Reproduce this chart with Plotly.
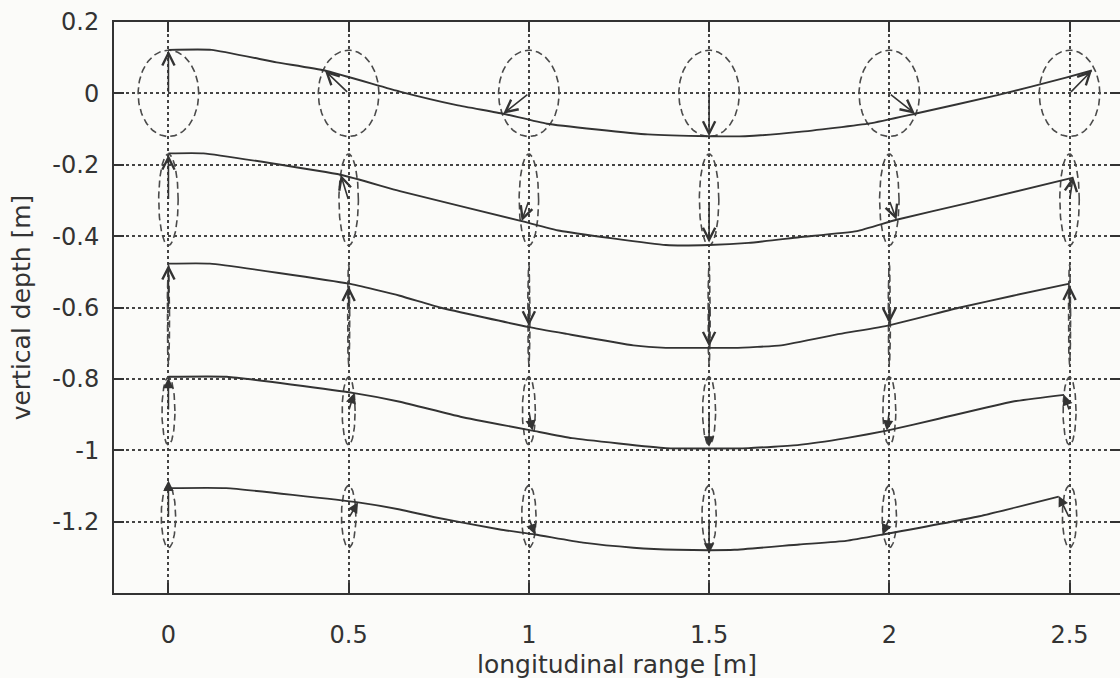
import numpy as np
import plotly.graph_objects as go

# ---------------- data ----------------
station_x = [0.0, 0.5, 1.0, 1.5, 2.0, 2.5]
row_depth = [0.0, -0.3, -0.6, -0.89, -1.19]          # arrow tails (mean position)

ellipse_center = [0.0, -0.298, -0.62, -0.89, -1.186]
ellipse_half_width = [0.084, 0.027, 0.003, 0.018, 0.02]
ellipse_half_height = [0.121, 0.128, 0.14, 0.095, 0.087]

tip_x_row1 = [0.0, 0.434, 0.929, 1.5, 2.071, 2.562]
tip_y_row1 = [0.12, 0.064, -0.057, -0.12, -0.057, 0.064]
tip_x_row2 = [0.0, 0.478, 0.98, 1.5, 2.02, 2.51]
tip_y_row2 = [-0.172, -0.228, -0.358, -0.418, -0.354, -0.233]
tip_x_row3 = [0.0, 0.5, 1.0, 1.5, 2.0, 2.5]
tip_y_row3 = [-0.48, -0.54, -0.652, -0.71, -0.645, -0.537]
tip_x_row4 = [0.0, 0.515, 1.01, 1.5, 1.993, 2.485]
tip_y_row4 = [-0.797, -0.84, -0.945, -0.99, -0.945, -0.845]
tip_x_row5 = [0.0, 0.526, 1.017, 1.5, 1.982, 2.47]
tip_y_row5 = [-1.085, -1.146, -1.236, -1.29, -1.236, -1.128]

curve_x_row1 = [0, 0.12, 0.3, 0.434, 0.642, 0.80, 0.929, 1.05, 1.33, 1.5, 1.6, 1.75, 1.946, 2.071, 2.30, 2.49, 2.562]
curve_y_row1 = [0.122, 0.122, 0.087, 0.064, 0.005, -0.033, -0.057, -0.085, -0.115, -0.12, -0.12, -0.108, -0.084, -0.057, -0.005, 0.044, 0.064]
curve_x_row2 = [0, 0.097, 0.478, 0.642, 0.98, 1.086, 1.38, 1.5, 1.61, 1.75, 1.91, 2.02, 2.22, 2.51]
curve_y_row2 = [-0.168, -0.168, -0.228, -0.274, -0.358, -0.385, -0.425, -0.425, -0.419, -0.403, -0.386, -0.354, -0.307, -0.236]
curve_x_row3 = [0, 0.115, 0.5, 0.642, 0.753, 1.0, 1.105, 1.29, 1.38, 1.5, 1.57, 1.70, 1.863, 2.0, 2.196, 2.343, 2.5]
curve_y_row3 = [-0.477, -0.477, -0.533, -0.567, -0.6, -0.655, -0.674, -0.706, -0.713, -0.713, -0.713, -0.706, -0.674, -0.65, -0.6, -0.567, -0.533]
curve_x_row4 = [0, 0.162, 0.515, 0.642, 0.81, 1.01, 1.12, 1.38, 1.5, 1.61, 1.75, 1.88, 1.993, 2.14, 2.34, 2.485]
curve_y_row4 = [-0.794, -0.794, -0.84, -0.864, -0.906, -0.945, -0.966, -0.994, -0.995, -0.994, -0.985, -0.966, -0.945, -0.911, -0.864, -0.845]
curve_x_row5 = [0, 0.16, 0.526, 0.642, 0.735, 0.92, 1.017, 1.15, 1.29, 1.41, 1.5, 1.57, 1.75, 1.88, 1.982, 2.25, 2.47]
curve_y_row5 = [-1.106, -1.106, -1.146, -1.166, -1.187, -1.222, -1.236, -1.259, -1.273, -1.279, -1.28, -1.279, -1.264, -1.254, -1.236, -1.185, -1.13]

x_tick_vals = [0, 0.5, 1, 1.5, 2, 2.5]
x_tick_text = ["0", "0.5", "1", "1.5", "2", "2.5"]
y_tick_vals = [0.2, 0, -0.2, -0.4, -0.6, -0.8, -1.0, -1.2]
y_tick_text = ["0.2", "0", "-0.2", "-0.4", "-0.6", "-0.8", "-1", "-1.2"]

x_title = "longitudinal range [m]"
y_title = "vertical depth [m]"

tips_x = [tip_x_row1, tip_x_row2, tip_x_row3, tip_x_row4, tip_x_row5]
tips_y = [tip_y_row1, tip_y_row2, tip_y_row3, tip_y_row4, tip_y_row5]
curves_x = [curve_x_row1, curve_x_row2, curve_x_row3, curve_x_row4, curve_x_row5]
curves_y = [curve_y_row1, curve_y_row2, curve_y_row3, curve_y_row4, curve_y_row5]

# ---------------- figure ----------------
INK = "#333333"
fig = go.Figure()

t = np.linspace(0, 2 * np.pi, 121)
for r in range(len(row_depth)):
    for sx in station_x:
        fig.add_trace(go.Scatter(
            x=sx + ellipse_half_width[r] * np.cos(t),
            y=ellipse_center[r] + ellipse_half_height[r] * np.sin(t),
            mode="lines", line=dict(color="#4a4a4a", width=1.6, dash="7px,4px"),
            hoverinfo="skip", showlegend=False))

for r in range(len(row_depth)):
    fig.add_trace(go.Scatter(
        x=curves_x[r], y=curves_y[r], mode="lines",
        line=dict(color=INK, width=1.9, shape="spline", smoothing=0.4),
        hoverinfo="skip", showlegend=False))

annotations = []
for r in range(len(row_depth)):
    for i, sx in enumerate(station_x):
        annotations.append(dict(
            x=tips_x[r][i], y=tips_y[r][i], ax=sx, ay=row_depth[r],
            xref="x", yref="y", axref="x", ayref="y", text="",
            showarrow=True, arrowhead=5 if r < 3 else 2,
            arrowsize=1.5 if r < 3 else 1.3, arrowwidth=1.6,
            arrowcolor=INK, standoff=0, startstandoff=0))

# x-axis title placed as text below the tick labels
annotations.append(dict(
    text=x_title, xref="paper", yref="paper", x=0.5, y=-0.126,
    xanchor="center", yanchor="middle", showarrow=False,
    font=dict(family="DejaVu Sans", size=25, color=INK)))

axis_common = dict(
    showgrid=True, gridcolor="#444444", griddash="dot", gridwidth=1.5,
    ticks="inside", ticklen=10, tickwidth=1.5, tickcolor=INK,
    showline=True, linecolor=INK, linewidth=2, mirror="ticks",
    zeroline=False, automargin=False,
    tickfont=dict(family="DejaVu Sans", size=24, color=INK),
)

fig.update_layout(
    width=1120, height=678,
    margin=dict(l=114, r=0, t=22, b=85),
    paper_bgcolor="#fbfbf9", plot_bgcolor="#fbfbf9",
    font=dict(family="DejaVu Sans", color=INK),
    annotations=annotations,
    xaxis=dict(range=[-0.151, 2.64], tickmode="array", tickvals=x_tick_vals,
               ticktext=x_tick_text, ticklabelstandoff=19, **axis_common),
    yaxis=dict(range=[-1.4, 0.2], tickmode="array", tickvals=y_tick_vals,
               ticktext=y_tick_text, ticklabelstandoff=8,
               title=dict(text=y_title,
                          font=dict(family="DejaVu Sans", size=25, color=INK)),
               **axis_common),
)

fig.write_html("out.html")
